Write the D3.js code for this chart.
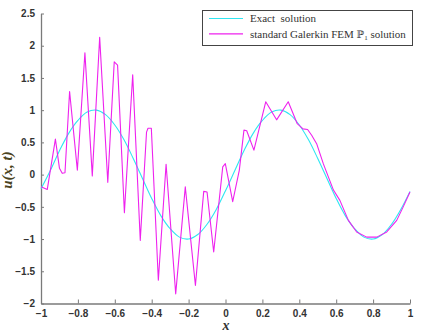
<!DOCTYPE html>
<html>
<head>
<meta charset="utf-8">
<script src="https://cdn.jsdelivr.net/npm/d3@7"></script>
<style>
  body { margin: 0; background: #fff; }
  svg { display: block; }
  .tick text { font-family: "Liberation Sans", Arial, sans-serif; font-weight: bold; font-size: 10px; fill: #333; }
</style>
</head>
<body>
<svg id="canvas" width="424" height="332"></svg>
<script>
// exact solution, every 0.05
let exactX = [-1, -0.95, -0.9, -0.85, -0.8, -0.75, -0.7, -0.65, -0.6, -0.55, -0.5, -0.45, -0.4, -0.35, -0.3, -0.25, -0.2, -0.15, -0.1, -0.05, 0,
              0.05, 0.1, 0.15, 0.2, 0.25, 0.3, 0.35, 0.4, 0.45, 0.5, 0.55, 0.6, 0.65, 0.7, 0.75, 0.8, 0.85, 0.9, 0.95, 1];
let exactU = [-0.22, 0.06, 0.37, 0.64, 0.84, 0.97, 1.0, 0.93, 0.77, 0.54, 0.25, -0.06, -0.37, -0.64, -0.84, -0.97, -1.0, -0.93, -0.77, -0.54, -0.25,
              0.06, 0.37, 0.64, 0.84, 0.97, 1.0, 0.93, 0.77, 0.54, 0.25, -0.06, -0.37, -0.64, -0.84, -0.97, -1.0, -0.93, -0.77, -0.54, -0.26];

// Galerkin FEM P1 solution (oscillating one)
let femX = [-1, -0.966, -0.922, -0.9, -0.885, -0.87, -0.845, -0.803, -0.762, -0.722, -0.682, -0.638, -0.603, -0.585, -0.548, -0.503,
            -0.462, -0.428, -0.42, -0.402, -0.364, -0.322, -0.27, -0.218, -0.163, -0.118, -0.1, -0.064, -0.015, -0.001, 0.039,
            0.075, 0.1, 0.115, 0.154, 0.218, 0.277, 0.34, 0.389, 0.42, 0.445, 0.467, 0.494, 0.53, 0.585, 0.62, 0.666, 0.711,
            0.765, 0.82, 0.874, 0.928, 0.96, 1];
let femU = [-0.19, -0.23, 0.55, 0.1, 0.02, 0.03, 1.29, 0.07, 1.89, -0.02, 2.13, -0.12, 1.75, 1.7, -0.59, 1.55,
            -1.02, 0.66, 0.72, 0.72, -1.64, 0.16, -1.85, -0.19, -1.72, -0.26, -0.27, -1.2, 0.12, 0.17, -0.42,
            0.07, 0.69, 0.68, 0.38, 1.13, 0.85, 1.13, 0.79, 0.71, 0.7, 0.61, 0.48, 0.17, -0.24, -0.4, -0.71, -0.89,
            -0.97, -0.97, -0.89, -0.71, -0.52, -0.27];

let xTicks = [-1, -0.8, -0.6, -0.4, -0.2, 0, 0.2, 0.4, 0.6, 0.8, 1];
let yTicks = [-2, -1.5, -1, -0.5, 0, 0.5, 1, 1.5, 2, 2.5];

let seriesNames = ['Exact  solution', 'standard Galerkin FEM '];
let seriesColors = ['#2fe6f2', '#ee22ee'];

let canvas = d3.select('#canvas');

let xScale = d3.scaleLinear().domain([-1, 1]).range([41, 410]);
let yScale = d3.scaleLinear().domain([-2, 2.5]).range([303.5, 13.5]);

// axes, ticks pointing inward like matlab
let xAxis = d3.axisBottom(xScale).tickValues(xTicks).tickSizeInner(-4).tickSizeOuter(0).tickPadding(6).tickFormat(d3.format('~g'));
let yAxis = d3.axisLeft(yScale).tickValues(yTicks).tickSizeInner(-3).tickSizeOuter(0).tickPadding(6).tickFormat(d3.format('~g'));

let gx = canvas.append('g').attr('transform', 'translate(0, 303.5)').call(xAxis);
let gy = canvas.append('g').attr('transform', 'translate(41, 0)').call(yAxis);
canvas.selectAll('.domain').attr('stroke', '#7a7a7a').attr('stroke-width', 1.3);
canvas.selectAll('.tick line').attr('stroke', '#7a7a7a');

let exactPts = exactX.map((x, i) => [x, exactU[i]]);
let femPts = femX.map((x, i) => [x, femU[i]]);

canvas.append('path')
  .datum(exactPts)
  .attr('fill', 'none')
  .attr('stroke', seriesColors[0])
  .attr('stroke-width', 1.1)
  .attr('d', d3.line().x(d => xScale(d[0])).y(d => yScale(d[1])).curve(d3.curveCatmullRom));

canvas.append('path')
  .datum(femPts)
  .attr('fill', 'none')
  .attr('stroke', seriesColors[1])
  .attr('stroke-width', 1.1)
  .attr('stroke-linejoin', 'round')
  .attr('d', d3.line().x(d => xScale(d[0])).y(d => yScale(d[1])));

// legend
let legend = canvas.append('g');
legend.append('rect')
  .attr('x', 202.5).attr('y', 10.5).attr('width', 210).attr('height', 35)
  .attr('fill', '#fff').attr('stroke', '#444').attr('stroke-width', 1);

seriesNames.forEach((name, i) => {
  let y = 18.5 + i * 15.3;
  legend.append('line')
    .attr('x1', 209).attr('x2', 243).attr('y1', y).attr('y2', y)
    .attr('stroke', seriesColors[i]).attr('stroke-width', 1.2);
  let t = legend.append('text')
    .attr('x', 250).attr('y', y + 3.8)
    .attr('font-family', '"Liberation Serif", serif')
    .attr('font-size', 11)
    .attr('fill', '#333')
    .attr('xml:space', 'preserve')
    .text(name);
  if (i == 1) {
    t.append('tspan').attr('font-family', '"DejaVu Serif", serif').attr('font-size', 10).text('\u2119');
    t.append('tspan').attr('font-size', 7).attr('dy', 2).text('1');
    t.append('tspan').attr('dy', -2).text(' solution');
  }
});

// axis labels
canvas.append('text')
  .attr('x', 226).attr('y', 330)
  .attr('text-anchor', 'middle')
  .attr('font-family', '"Liberation Serif", serif')
  .attr('font-style', 'italic').attr('font-weight', 'bold')
  .attr('font-size', 14).attr('fill', '#333')
  .text('x');

canvas.append('text')
  .attr('transform', 'translate(12, 170) rotate(-90)')
  .attr('text-anchor', 'middle')
  .attr('font-family', '"Liberation Serif", serif')
  .attr('font-style', 'italic').attr('font-weight', 'bold')
  .attr('font-size', 15).attr('fill', '#4a4320')
  .text('u(x, t)');
</script>
</body>
</html>
